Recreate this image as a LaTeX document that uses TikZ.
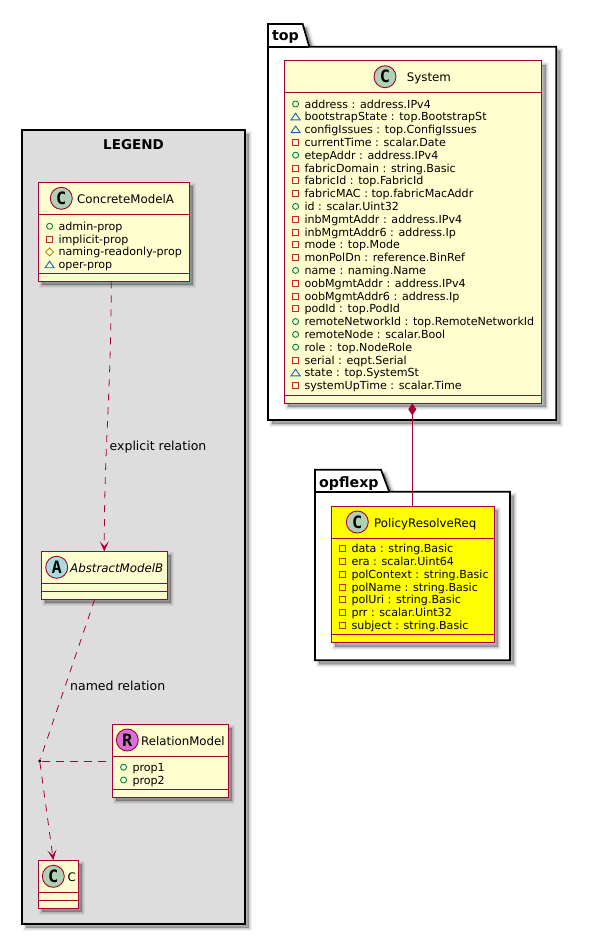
\documentclass[tikz,border=0pt]{standalone}
\usepackage{fontspec}
\setmainfont{DejaVu Sans}
\newfontfamily\spotfont{DejaVu Sans Mono}[BoldFont={DejaVu Sans Mono Bold}]
\usetikzlibrary{arrows.meta,shadows,calc}
\definecolor{umlline}{HTML}{A80036}
\definecolor{umlfill}{HTML}{FEFECE}
\definecolor{legendfill}{HTML}{DDDDDD}
\definecolor{pureyellow}{HTML}{FFFF00}
\definecolor{pubcol}{HTML}{038048}
\definecolor{privcol}{HTML}{C82930}
\definecolor{protcol}{HTML}{B38D22}
\definecolor{pkgcol}{HTML}{1963A0}
\definecolor{spotC}{HTML}{ADD1B2}
\definecolor{spotA}{HTML}{A9DCDF}
\definecolor{spotR}{HTML}{DA70D6}
\tikzset{
  softshadow/.style={
    general shadow={shadow xshift=4pt,shadow yshift=-4pt,draw=black,fill=black,line width=6pt,opacity=.05},
    general shadow={shadow xshift=4pt,shadow yshift=-4pt,draw=black,fill=black,line width=4pt,opacity=.07},
    general shadow={shadow xshift=4pt,shadow yshift=-4pt,draw=black,fill=black,line width=2pt,opacity=.09},
    general shadow={shadow xshift=4pt,shadow yshift=-4pt,draw=none,fill=black,opacity=.10}},
  cls/.style={rectangle,draw=umlline,line width=1pt,fill=umlfill,inner sep=0pt,outer sep=0pt,anchor=north west,softshadow},
  sep/.style={draw=umlline,line width=1pt},
  spot/.style={circle,draw=umlline,line width=.9pt,minimum size=22pt,inner sep=0pt,outer sep=0pt,font=\spotfont\bfseries\fontsize{17}{17}\selectfont},
  title/.style={anchor=base west,inner sep=0pt,font=\fontsize{11.8}{14}\selectfont},
  row/.style={anchor=base west,inner sep=0pt,font=\fontsize{11.1}{13}\selectfont},
  rel/.style={draw=umlline,line width=.8pt,dash pattern=on 7pt off 7pt},
  lab/.style={anchor=base west,inner sep=0pt,font=\fontsize{12.5}{15}\selectfont},
  vee/.style={-{Stealth[length=10pt,width=9pt,inset=5pt,umlline]}},
  pkg/.style={draw=black,line width=1.8pt,fill=white,softshadow},
  pkglab/.style={anchor=base west,inner sep=0pt,font=\bfseries\fontsize{14.2}{16}\selectfont},
  ic/.style={line width=.9pt}
}
% visibility icons: #1 x, #2 y (centre)
\newcommand\iconO[2]{\draw[ic,pubcol] (#1,#2) circle (3pt);}
\newcommand\iconS[2]{\draw[ic,privcol] ($(#1,#2)+(-3,-3)$) rectangle ($(#1,#2)+(3,3)$);}
\newcommand\iconD[2]{\draw[ic,protcol] ($(#1,#2)+(-4,0)$) -- ($(#1,#2)+(0,-4)$) -- ($(#1,#2)+(4,0)$) -- ($(#1,#2)+(0,4)$) -- cycle;}
\newcommand\iconT[2]{\draw[ic,pkgcol] ($(#1,#2)+(-4.5,3)$) -- ($(#1,#2)+(0,-3.5)$) -- ($(#1,#2)+(4.5,3)$) -- cycle;}
% rows: #1 prefix, #2 box left, #3 first baseline, #4 list kind/text
\newcommand\attrows[4]{%
  \foreach \k/\t [count=\i from 0] in {#4}{%
    \pgfmathsetmacro\by{#3+12.8*\i}
    \pgfmathsetmacro\cy{\by-4}
    \pgfmathsetmacro\ix{#2+11.3}
    \pgfmathsetmacro\tx{#2+20}
    \csname icon\k\endcsname{\ix}{\cy}
    \node[row] (#1-\i) at (\tx,\by) {\t};
  }}
\begin{document}
\begin{tikzpicture}[x=1pt,y=-1pt]
\useasboundingbox (0,0) rectangle (590,950);

% LEGEND
\node[rectangle,draw=black,line width=1.8pt,fill=legendfill,inner sep=0pt,outer sep=0pt,anchor=north west,softshadow,minimum width=222.7pt,minimum height=794pt] (legend) at (22,130) {};
\node[inner sep=0pt,anchor=base,font=\bfseries\fontsize{13.5}{15}\selectfont] (legendtitle) at (133.5,149) {LEGEND};

% Packages
\draw[pkg] (268,46.7) -- (268,24) -- (302.7,24) -- (309.3,46.7) -- (556.3,46.7) -- (556.3,420) -- (268,420) -- cycle;
\draw[line width=1.8pt] (268,46.7) -- (309.3,46.7);
\node[pkglab] (pkgtop) at (272,41) {top};
\draw[pkg] (315,491.7) -- (315,469.7) -- (381,469.7) -- (389.3,491.7) -- (510,491.7) -- (510,660.3) -- (315,660.3) -- cycle;
\draw[line width=1.8pt] (315,491.7) -- (389.3,491.7);
\node[pkglab] (pkgopf) at (319,487) {opflexp};

% ConcreteModelA
\node[cls,minimum width=151pt,minimum height=99.3pt] (cma) at (38.3,182) {};
\draw[sep] (cma.west |- 0,214.3) -- (cma.east |- 0,214.3);
\draw[sep] (cma.west |- 0,273.3) -- (cma.east |- 0,273.3);
\node[spot,fill=spotC] (cmaspot) at (61.3,198.3) {C};
\node[title] (cmatitle) at (77,203.2) {ConcreteModelA};
\attrows{cma}{38.3}{230.3}{O/admin-prop,S/implicit-prop,D/naming-readonly-prop,T/oper-prop}

% AbstractModelB
\node[cls,minimum width=126pt,minimum height=48pt] (amb) at (41.3,551.3) {};
\draw[sep] (amb.west |- 0,583.3) -- (amb.east |- 0,583.3);
\draw[sep] (amb.west |- 0,591.3) -- (amb.east |- 0,591.3);
\node[spot,fill=spotA] (ambspot) at (56.7,567.3) {A};
\node[title,font=\itshape\fontsize{11.8}{14}\selectfont] (ambtitle) at (70,572.3) {AbstractModelB};

% RelationModel
\node[cls,minimum width=116pt,minimum height=73.3pt] (rm) at (112.3,724) {};
\draw[sep] (rm.west |- 0,756.3) -- (rm.east |- 0,756.3);
\draw[sep] (rm.west |- 0,789.3) -- (rm.east |- 0,789.3);
\node[spot,fill=spotR] (rmspot) at (127.3,740) {R};
\node[title] (rmtitle) at (141,745) {RelationModel};
\attrows{rm}{112.3}{771.2}{O/prop1,O/prop2}

% C
\node[cls,minimum width=40pt,minimum height=48.3pt] (cc) at (38.3,860) {};
\draw[sep] (cc.west |- 0,892.3) -- (cc.east |- 0,892.3);
\draw[sep] (cc.west |- 0,900.3) -- (cc.east |- 0,900.3);
\node[spot,fill=spotC] (ccspot) at (53.3,876.3) {C};
\node[title] (cctitle) at (67.3,881.3) {C};

% System
\node[cls,minimum width=257.4pt,minimum height=342.6pt] (sys) at (284.3,60.7) {};
\draw[sep] (sys.west |- 0,92.7) -- (sys.east |- 0,92.7);
\draw[sep] (sys.west |- 0,395) -- (sys.east |- 0,395);
\node[spot,fill=spotC] (sysspot) at (385,76.7) {C};
\node[title] (systitle) at (406.7,81.7) {System};
\attrows{sys}{284.3}{108}{O/address : address.IPv4,T/bootstrapState : top.BootstrapSt,T/configIssues : top.ConfigIssues,S/currentTime : scalar.Date,O/etepAddr : address.IPv4,S/fabricDomain : string.Basic,S/fabricId : top.FabricId,S/fabricMAC : top.fabricMacAddr,O/id : scalar.Uint32,S/inbMgmtAddr : address.IPv4,S/inbMgmtAddr6 : address.Ip,S/mode : top.Mode,S/monPolDn : reference.BinRef,O/name : naming.Name,S/oobMgmtAddr : address.IPv4,S/oobMgmtAddr6 : address.Ip,S/podId : top.PodId,O/remoteNetworkId : top.RemoteNetworkId,O/remoteNode : scalar.Bool,O/role : top.NodeRole,S/serial : eqpt.Serial,T/state : top.SystemSt,S/systemUpTime : scalar.Time}

% PolicyResolveReq
\node[cls,fill=pureyellow,minimum width=163pt,minimum height=136.4pt] (prr) at (331.3,506.3) {};
\draw[sep] (prr.west |- 0,538.3) -- (prr.east |- 0,538.3);
\draw[sep] (prr.west |- 0,634.7) -- (prr.east |- 0,634.7);
\node[spot,fill=spotC] (prrspot) at (357.3,522) {C};
\node[title] (prrtitle) at (374,527) {PolicyResolveReq};
\attrows{prr}{331.3}{552.7}{S/data : string.Basic,S/era : scalar.Uint64,S/polContext : string.Basic,S/polName : string.Basic,S/polUri : string.Basic,S/prr : scalar.Uint32,S/subject : string.Basic}

% Connectors
\node[circle,fill=black,inner sep=0pt,minimum size=3.2pt] (dot) at (39.7,761) {};
\draw[draw=umlline,line width=.9pt,{Diamond[length=12pt,width=8pt,umlline,fill=umlline]}-] ([xshift=-.7pt]sys.south) -- ([xshift=-.7pt]sys.south |- prr.north);
\draw[rel,vee] ($(cma.south)+(-2.5,0)$) .. controls ($(cma.south)+(-3,120)$) and ($(amb.north)+(0,-110)$) .. (amb.north);
\draw[rel] ([xshift=-9.6pt]amb.south) -- (dot);
\draw[rel,vee] (dot) -- ([xshift=-5pt]cc.north);
\draw[draw=umlline,line width=.8pt,dash pattern=on 8pt off 6pt] (dot) -- (rm.west |- dot);

% Labels
\node[lab] (lab1) at (109.5,450) {explicit relation};
\node[lab] (lab2) at (70,690) {named relation};
\end{tikzpicture}
\end{document}
